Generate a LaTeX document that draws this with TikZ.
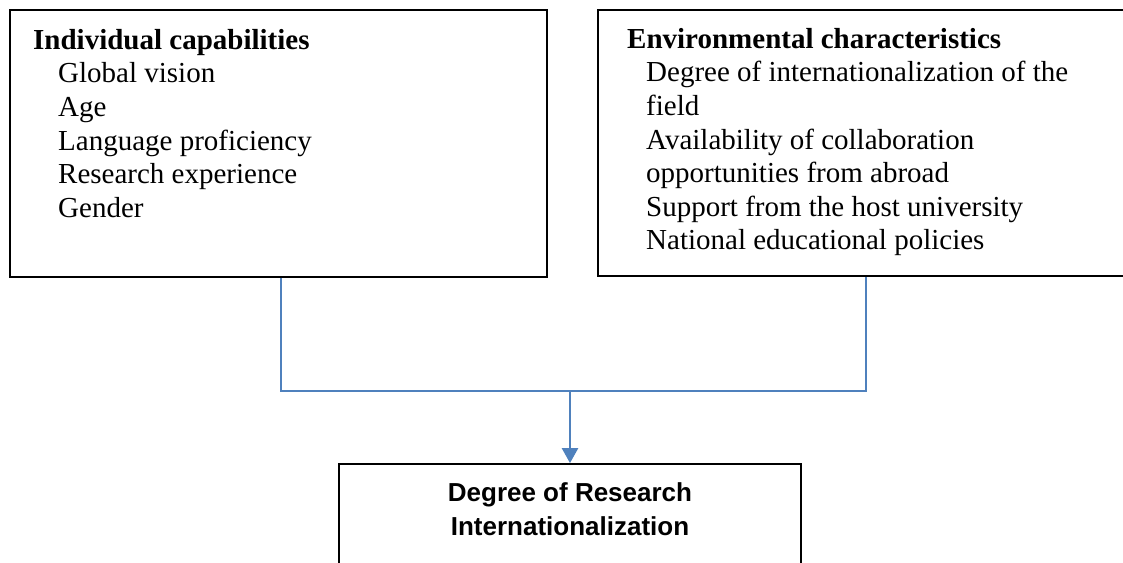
\documentclass[tikz,border=0pt]{standalone}
\usepackage{fontspec}
\setmainfont{Liberation Serif}
\newfontfamily\headfont{Liberation Sans}
\usetikzlibrary{arrows.meta}
\definecolor{linkblue}{HTML}{4F81BD}
\begin{document}
\begin{tikzpicture}[x=1pt,y=-1pt,
  box/.style={draw=black,line width=1.8pt,rectangle,inner sep=0pt},
  listtext/.style={inner sep=0pt,align=left,anchor=north west,
    font=\fontsize{29}{33.6}\selectfont},
  conn/.style={draw=linkblue,line width=2.5pt},
  arr/.style={conn,-{Triangle[width=16pt,length=15pt]}}]
\useasboundingbox (0,0) rectangle (1123,562);
% the three boxes
\node[box,minimum width=537pt,minimum height=267pt] (lb) at (278.5,143.5) {};
\node[box,minimum width=532pt,minimum height=266pt] (rb) at (864,143) {};
\node[box,minimum width=462pt,minimum height=106pt] (bb) at (570,517) {};
% box contents
\node[listtext] (lt) at (33,29) {\textbf{Individual capabilities}\\
  \hspace*{25pt}Global vision\\
  \hspace*{25pt}Age\\
  \hspace*{25pt}Language proficiency\\
  \hspace*{25pt}Research experience\\
  \hspace*{25pt}Gender};
\node[listtext] (rt) at (627,28) {\textbf{Environmental characteristics}\\
  \hspace*{19pt}Degree of internationalization of the\\
  \hspace*{19pt}field\\
  \hspace*{19pt}Availability of collaboration\\
  \hspace*{19pt}opportunities from abroad\\
  \hspace*{19pt}Support from the host university\\
  \hspace*{19pt}National educational policies};
\node[inner sep=0pt,align=center,font=\headfont\bfseries\fontsize{26}{34.6}\selectfont]
  (bt) at (570,509) {Degree of Research\\Internationalization};
% connectors
\coordinate (ld) at (281,391);
\coordinate (rd) at (866,391);
\coordinate (j) at (570,391);
\draw[conn] (lb.south -| ld) -- (ld) -- (rd) -- (rb.south -| rd);
\draw[arr] (j) -- (bb.north);
\end{tikzpicture}
\end{document}
